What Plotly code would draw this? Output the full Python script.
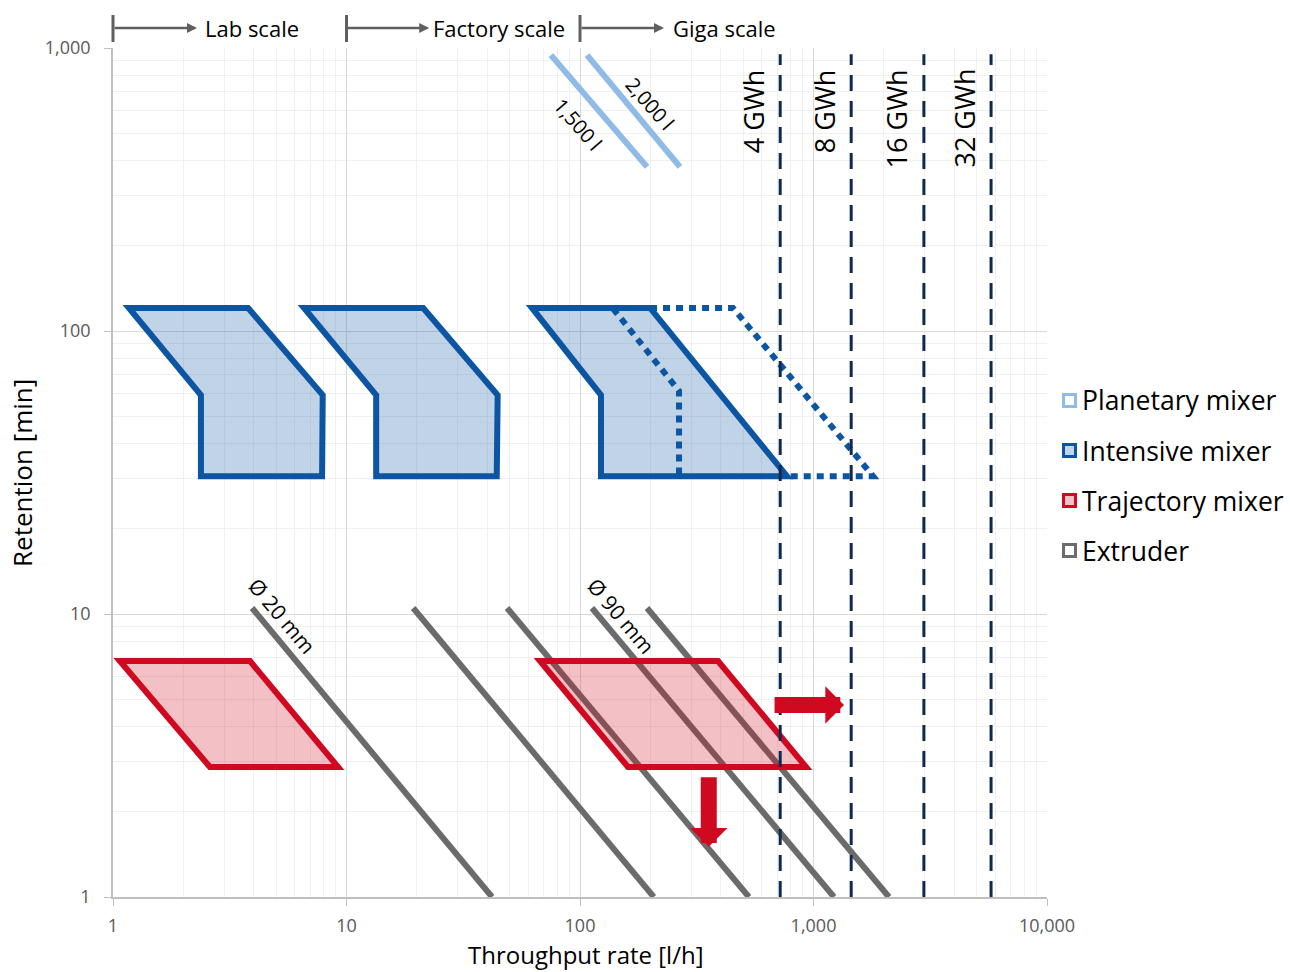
import math
import plotly.graph_objects as go

# ---------------------------------------------------------------------------
# Data: throughput rate [l/h] vs. retention time [min]
# ---------------------------------------------------------------------------
# Intensive mixer operating windows
intensive_lab_x = [1.17, 3.79, 7.91, 7.86, 2.38, 2.38]
intensive_lab_y = [120.6, 120.6, 59.4, 30.7, 30.7, 59.4]
intensive_factory_x = [6.58, 21.3, 44.4, 44.0, 13.4, 13.4]
intensive_factory_y = [120.6, 120.6, 59.4, 30.7, 30.7, 59.4]
intensive_giga_x = [62.3, 199.5, 770, 123, 123]
intensive_giga_y = [120.6, 120.6, 30.7, 30.7, 59.4]

# Intensive mixer, possible extensions (dotted outlines)
intensive_ext_a_x = [138.5, 265.5, 265.5]
intensive_ext_a_y = [120.0, 61.4, 30.7]
intensive_ext_b_x = [199.5, 452, 1798, 793]
intensive_ext_b_y = [120.6, 120.6, 30.7, 30.7]

# Trajectory mixer operating windows
trajectory_lab_x = [1.07, 3.86, 9.20, 2.60]
trajectory_lab_y = [6.82, 6.82, 2.88, 2.88]
trajectory_giga_x = [67.4, 390, 929, 160.5]
trajectory_giga_y = [6.82, 6.82, 2.88, 2.88]

# Planetary mixer batch volume lines
planetary_labels = ["1,500 l", "2,000 l"]
planetary_x = [[75.1, 193.7], [107.2, 268.0]]
planetary_y = [[944, 380], [944, 380]]
planetary_label_x = [98, 199.5]
planetary_label_y = [535, 639]

# Extruder screw diameter lines
extruder_x = [[3.94, 42.0], [19.3, 207], [48.7, 529], [112.5, 1224], [193.6, 2105]]
extruder_y = [[10.5, 1.0], [10.5, 1.0], [10.5, 1.0], [10.5, 1.0], [10.5, 1.0]]
extruder_labels = ["Ø 20 mm", "Ø 90 mm"]
extruder_label_x = [5.3, 150]
extruder_label_y = [9.84, 9.84]

# Cell factory capacities
gwh_labels = ["4 GWh", "8 GWh", "16 GWh", "32 GWh"]
gwh_x = [720, 1450, 2970, 5760]
gwh_y = [1.0, 950]

# Scale-up direction arrows for the trajectory mixer (tail -> tip)
arrow_tail_x = [671, 356]
arrow_tail_y = [4.77, 2.68]
arrow_tip_x = [1351, 356]
arrow_tip_y = [4.77, 1.505]

# Scale brackets above the chart
scale_labels = ["Lab scale", "Factory scale", "Giga scale"]
scale_start = [1, 10, 100]
scale_arrow_end = [2.29, 22.6, 229]
scale_text_x = [2.42, 23.0, 246]

# Axis ticks
x_tickvals = [1, 10, 100, 1000, 10000]
x_ticktext = ["1", "10", "100", "1,000", "10,000"]
y_tickvals = [1, 10, 100, 1000]
y_ticktext = ["1", "10", "100", "1,000"]

# Legend entries
legend_names = ["Planetary mixer", "Intensive mixer", "Trajectory mixer", "Extruder"]

# ---------------------------------------------------------------------------
# Styling
# ---------------------------------------------------------------------------
FONT = "Open Sans"
BLUE = "#0b55a3"
BLUE_FILL = "rgba(11,85,163,0.26)"
RED = "#cf0a20"
RED_FILL = "rgba(207,10,32,0.26)"
LIGHT_BLUE = "#8fbbe6"
GREY = "#6b6b6b"
NAVY = "#0e2a4f"
BRACKET = "#606060"
legend_line = [LIGHT_BLUE, BLUE, RED, GREY]
legend_fill = ["#ffffff", "#c0d4e9", "#f2c1c7", "#ffffff"]

W, H = 1290, 972
ML, MR, MT, MB = 113, 243, 48, 75
PW, PH = W - ML - MR, H - MT - MB


def px_to_paper_x(px):
    return (px - ML) / PW


def px_to_paper_y(py):
    return (H - MB - py) / PH


fig = go.Figure()

# Extruder lines
for xs, ys in zip(extruder_x, extruder_y):
    fig.add_trace(go.Scatter(x=xs, y=ys, mode="lines",
                             line=dict(color=GREY, width=6),
                             hoverinfo="skip", showlegend=False))

# Planetary mixer lines
for xs, ys in zip(planetary_x, planetary_y):
    fig.add_trace(go.Scatter(x=xs, y=ys, mode="lines",
                             line=dict(color=LIGHT_BLUE, width=6),
                             hoverinfo="skip", showlegend=False))

# Intensive mixer windows
for xs, ys in [(intensive_lab_x, intensive_lab_y),
               (intensive_factory_x, intensive_factory_y),
               (intensive_giga_x, intensive_giga_y)]:
    fig.add_trace(go.Scatter(x=xs + xs[:2], y=ys + ys[:2], mode="lines",
                             fill="toself", fillcolor=BLUE_FILL,
                             line=dict(color=BLUE, width=6, shape="linear"),
                             hoverinfo="skip", showlegend=False))

for xs, ys in [(intensive_ext_a_x, intensive_ext_a_y),
               (intensive_ext_b_x, intensive_ext_b_y)]:
    fig.add_trace(go.Scatter(x=xs, y=ys, mode="lines",
                             line=dict(color=BLUE, width=6, dash="7px,6px"),
                             hoverinfo="skip", showlegend=False))

# Trajectory mixer windows
for xs, ys in [(trajectory_lab_x, trajectory_lab_y),
               (trajectory_giga_x, trajectory_giga_y)]:
    fig.add_trace(go.Scatter(x=xs + xs[:2], y=ys + ys[:2], mode="lines",
                             fill="toself", fillcolor=RED_FILL,
                             line=dict(color=RED, width=6),
                             hoverinfo="skip", showlegend=False))

# Factory capacity lines
for gx in gwh_x:
    fig.add_trace(go.Scatter(x=[gx, gx], y=gwh_y, mode="lines",
                             line=dict(color=NAVY, width=3, dash="16px,10px"),
                             hoverinfo="skip", showlegend=False))

annotations = []

# Capacity labels
for gx, label in zip(gwh_x, gwh_labels):
    annotations.append(dict(x=math.log10(gx), xref="x", xshift=-27,
                            y=px_to_paper_y(67), yref="paper",
                            text=label, textangle=-90, showarrow=False,
                            xanchor="center", yanchor="top",
                            font=dict(family=FONT, size=27, color="black")))

# Planetary labels
for lx, ly, label in zip(planetary_label_x, planetary_label_y, planetary_labels):
    annotations.append(dict(x=math.log10(lx), y=math.log10(ly), xref="x", yref="y",
                            text=label, textangle=49, showarrow=False,
                            font=dict(family=FONT, size=20, color="black")))

# Extruder labels
for lx, ly, label in zip(extruder_label_x, extruder_label_y, extruder_labels):
    annotations.append(dict(x=math.log10(lx), y=math.log10(ly), xref="x", yref="y",
                            text=label, textangle=50, showarrow=False,
                            font=dict(family=FONT, size=21, color="black")))

# Red scale-up arrows
for tx, ty, hx, hy in zip(arrow_tail_x, arrow_tail_y, arrow_tip_x, arrow_tip_y):
    annotations.append(dict(x=math.log10(hx), y=math.log10(hy), xref="x", yref="y",
                            ax=math.log10(tx), ay=math.log10(ty), axref="x", ayref="y",
                            text="", showarrow=True, arrowhead=1, arrowsize=0.39,
                            arrowwidth=16, arrowcolor=RED, standoff=0, startstandoff=0))

# Scale brackets
shapes = []
bracket_y = px_to_paper_y(28)
for s0, s1, tx, label in zip(scale_start, scale_arrow_end, scale_text_x, scale_labels):
    xp = math.log10(s0) / 4
    shapes.append(dict(type="line", xref="paper", yref="paper",
                       x0=xp, x1=xp, y0=px_to_paper_y(15), y1=px_to_paper_y(42),
                       line=dict(color=BRACKET, width=3)))
    annotations.append(dict(x=math.log10(s1), y=bracket_y, xref="x", yref="paper",
                            ax=math.log10(s0), ay=0, axref="x", ayref="pixel",
                            text="", showarrow=True, arrowhead=2, arrowsize=0.8,
                            arrowwidth=2.5, arrowcolor=BRACKET, standoff=0))
    annotations.append(dict(x=math.log10(tx), y=bracket_y, xref="x", yref="paper",
                            text=label, showarrow=False, xanchor="left", yanchor="middle",
                            font=dict(family=FONT, size=22, color="black")))

# Legend
for i, (name, lc, fc) in enumerate(zip(legend_names, legend_line, legend_fill)):
    cy = 400.5 + 50 * i
    shapes.append(dict(type="rect", xref="paper", yref="paper",
                       x0=px_to_paper_x(1063.5), x1=px_to_paper_x(1075.5),
                       y0=px_to_paper_y(cy - 6), y1=px_to_paper_y(cy + 6),
                       fillcolor=fc, line=dict(color=lc, width=3)))
    annotations.append(dict(x=px_to_paper_x(1080), y=px_to_paper_y(cy),
                            xref="paper", yref="paper", text=name, showarrow=False,
                            xanchor="left", yanchor="middle",
                            font=dict(family=FONT, size=26.5, color="black")))

# Axis titles
annotations.append(dict(x=px_to_paper_x(586), y=px_to_paper_y(972), xref="paper", yref="paper",
                        text="Throughput rate [l/h]", showarrow=False,
                        xanchor="center", yanchor="bottom", borderpad=0,
                        font=dict(family=FONT, size=24, color="black")))
annotations.append(dict(x=px_to_paper_x(22), y=px_to_paper_y(473), xref="paper", yref="paper",
                        text="Retention [min]", textangle=-90, showarrow=False,
                        xanchor="center", yanchor="middle",
                        font=dict(family=FONT, size=26, color="black")))

axis_common = dict(
    type="log",
    showgrid=True, gridcolor="#d9d9d9", gridwidth=1,
    minor=dict(dtick="D1", showgrid=True, gridcolor="#f0f0f0", gridwidth=1, ticks=""),
    showline=True, linecolor="#bfbfbf", linewidth=1.5,
    ticks="outside", ticklen=7, tickcolor="#bfbfbf", tickwidth=1,
    tickfont=dict(family=FONT, size=18, color="#595959"),
    zeroline=False,
)

fig.update_layout(
    width=W, height=H, autosize=False,
    margin=dict(l=ML, r=MR, t=MT, b=MB),
    paper_bgcolor="white", plot_bgcolor="white",
    showlegend=False,
    xaxis=dict(range=[0, 4], tickmode="array", tickvals=x_tickvals, ticktext=x_ticktext,
               ticklabelstandoff=5, **axis_common),
    yaxis=dict(range=[0, 3], tickmode="array", tickvals=y_tickvals, ticktext=y_ticktext,
               ticklabelstandoff=10, **axis_common),
    shapes=shapes,
    annotations=annotations,
)

# Sharp (mitred) corners on the outlined operating windows
miter_js = (
    "var s=document.createElement('style');"
    "s.textContent='.js-line{stroke-linejoin:miter !important;stroke-miterlimit:10 !important;}';"
    "document.head.appendChild(s);"
)

fig.write_html("out.html", post_script=miter_js)
